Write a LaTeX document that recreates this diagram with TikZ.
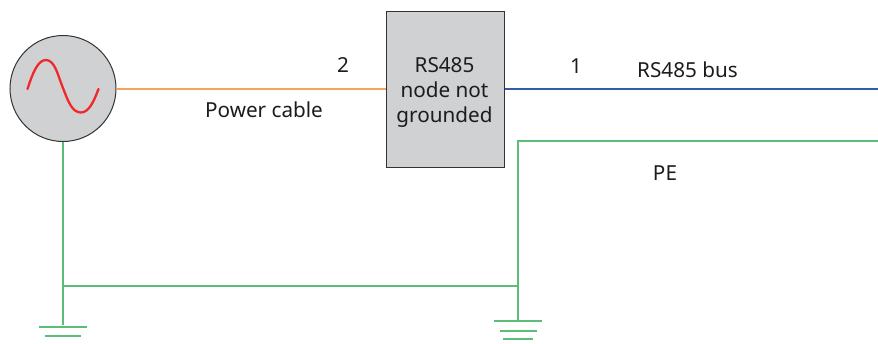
\documentclass[tikz,border=0pt]{standalone}
\usepackage{fontspec}
\setmainfont{Noto Sans}
\usetikzlibrary{positioning,calc}
\definecolor{boxgray}{HTML}{D0D1D3}
\definecolor{pegreen}{HTML}{5CBD78}
\definecolor{pwrorange}{HTML}{F0A55A}
\definecolor{busblue}{HTML}{2F5DA6}
\definecolor{sinered}{HTML}{EE2A2A}
\definecolor{txt}{HTML}{1C1C1C}

\begin{document}
\begin{tikzpicture}[x=1pt,y=-1pt,font=\fontsize{20.7}{25}\selectfont,text=txt,
  unit/.style={draw=black!80,fill=boxgray,line width=1pt,inner sep=0pt},
  pe/.style={pegreen,line width=1.5pt},
  pwr/.style={draw=pwrorange,line width=1.6pt},
  bus/.style={draw=busblue,line width=1.4pt},
  sine/.style={sinered,line width=2.3pt,line cap=round},
  bar/.style={pegreen,line width=1.7pt}]
\useasboundingbox (0,0) rectangle (878,343);
\node[unit,circle,minimum size=106pt] (src) at (63,88.5) {};
\node[unit,minimum width=118pt,minimum height=156pt] (node485) at (445,89) {};
\node[align=center] (node485txt) at (444.5,92.5) {RS485\\node not\\grounded};
% wire ends
\coordinate (pwrstart) at (116,89);
\coordinate (busend) at (878,89);
\coordinate (pecorner) at (518,141);
\coordinate (peend) at (878,141);
\coordinate (jleft) at (63,286);
\coordinate (jright) at (518,286);
% ground bars
\coordinate (gndleft) at (63,325);
\coordinate (gndright) at (518,321);
\coordinate (la) at (39,327); \coordinate (lb) at (87,327);
\coordinate (lc) at (45,336); \coordinate (ld) at (81,336);
\coordinate (ra) at (494,321); \coordinate (rb) at (542,321);
\coordinate (rc) at (500,331); \coordinate (rd) at (537,331);
\coordinate (re) at (503,339); \coordinate (rf) at (533,339);

\draw[sine] (27.5,89) .. controls (33,72) and (38,60) .. (46,60)
  .. controls (55,60) and (58,76) .. (63,88)
  .. controls (68,101) and (72,112.5) .. (81,112.5)
  .. controls (89,112.5) and (94,101) .. (98.5,89);

\draw[pwr] (pwrstart) -- (pwrstart -| node485.west);
\draw[bus] (node485.east |- busend) -- (busend);
\draw[pe] (peend) -- (pecorner) -- (jright) -- (gndright);
\draw[pe] (src.south) -- (jleft) -- (gndleft);
\draw[pe] (jleft) -- (jright);
\draw[bar] (la) -- (lb);
\draw[bar] (lc) -- (ld);
\draw[bar] (ra) -- (rb);
\draw[bar] (rc) -- (rd);
\draw[bar] (re) -- (rf);

\node (lbltwo) at (343,65) {2};
\node (lblone) at (576,66) {1};
\node (lblpower) at (264,110) {Power cable};
\node (lblbus) at (687.5,70) {RS485 bus};
\node (lblpe) at (665,173) {PE};
\end{tikzpicture}
\end{document}
